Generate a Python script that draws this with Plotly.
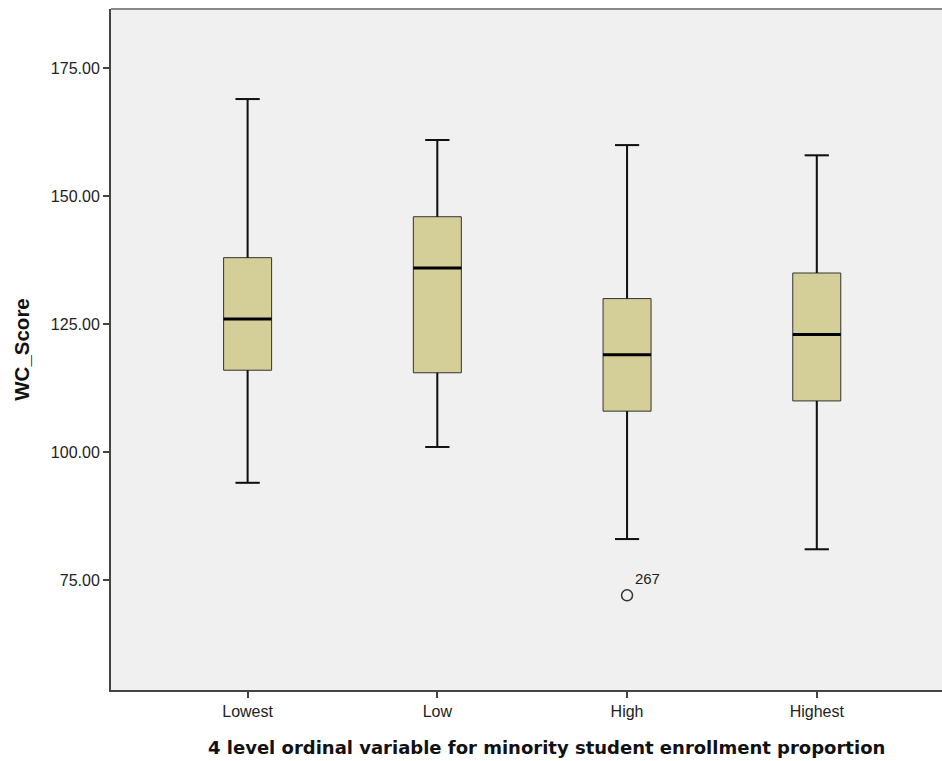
import plotly.graph_objects as go

categories = ["Lowest", "Low", "High", "Highest"]
q1 = [116, 115.5, 108, 110]
median = [126, 136, 119, 123]
q3 = [138, 146, 130, 135]
lower_whisker = [94, 101, 83, 81]
upper_whisker = [169, 161, 160, 158]
outlier_cat = [2]
outlier_val = [72]
outlier_label = ["267"]

xs = list(range(len(categories)))
box_w = 0.253
cap_w = 0.127

fig = go.Figure()
fig.add_trace(go.Box(
    x=xs, q1=q1, median=median, q3=q3,
    lowerfence=lower_whisker, upperfence=upper_whisker,
    width=box_w, whiskerwidth=cap_w / box_w,
    fillcolor="#D4CE98", line=dict(color="#333333", width=1),
    boxpoints=False, hoverinfo="skip", showlegend=False,
))
# thicker whiskers and median
for i in xs:
    for a, b in [(lower_whisker[i], q1[i]), (q3[i], upper_whisker[i])]:
        fig.add_trace(go.Scatter(x=[i, i], y=[a, b], mode="lines",
                                 line=dict(color="#111111", width=2), showlegend=False, hoverinfo="skip"))
    for v in (lower_whisker[i], upper_whisker[i]):
        fig.add_trace(go.Scatter(x=[i - cap_w / 2, i + cap_w / 2], y=[v, v], mode="lines",
                                 line=dict(color="#111111", width=2), showlegend=False, hoverinfo="skip"))
    fig.add_trace(go.Scatter(x=[i - box_w / 2, i + box_w / 2], y=[median[i], median[i]], mode="lines",
                             line=dict(color="#000000", width=3), showlegend=False, hoverinfo="skip"))

fig.add_trace(go.Scatter(
    x=outlier_cat, y=outlier_val, mode="markers+text",
    marker=dict(symbol="circle-open", size=11, color="#333333", line=dict(width=1.5)),
    text=outlier_label, textposition="top right",
    textfont=dict(family="Liberation Sans, Arial", size=15, color="#222222"),
    showlegend=False, hoverinfo="skip",
))

fig.update_layout(
    width=942, height=761,
    margin=dict(l=111, r=0, t=9, b=71),
    paper_bgcolor="white", plot_bgcolor="#F0F0F0",
    font=dict(family="Liberation Sans, Arial", size=15, color="#222222"),
    xaxis=dict(
        range=[-0.72, 3.66], tickmode="array", tickvals=xs, ticktext=categories,
        showgrid=False, zeroline=False, showline=True, linecolor="#444444", linewidth=2,
        ticks="outside", ticklen=6, tickwidth=2, tickcolor="#444444",
        tickfont=dict(size=16),
    ),
    yaxis=dict(
        range=[53.5, 186.6], tickvals=[75, 100, 125, 150, 175], tickformat=".2f",
        showgrid=False, zeroline=False, showline=True, linecolor="#444444", linewidth=2,
        ticks="outside", ticklen=6, tickwidth=2, tickcolor="#444444",
        tickfont=dict(size=16),
        title=dict(text="<b>WC_Score</b>", font=dict(family="Liberation Sans, Arial", size=20.5, color="#111111"),
                   standoff=16),
    ),
    shapes=[dict(type="line", xref="paper", yref="paper", x0=0, x1=1, y0=1, y1=1,
                 line=dict(color="#888888", width=2))],
    annotations=[dict(
        text="<b>4 level ordinal variable for minority student enrollment proportion</b>",
        xref="paper", yref="paper", x=(546 - 111) / 831, y=-(747 - 690) / 681,
        xanchor="center", yanchor="middle", showarrow=False,
        font=dict(family="DejaVu Sans", size=18, color="#111111"),
    )],
)

fig.write_html("out.html")
